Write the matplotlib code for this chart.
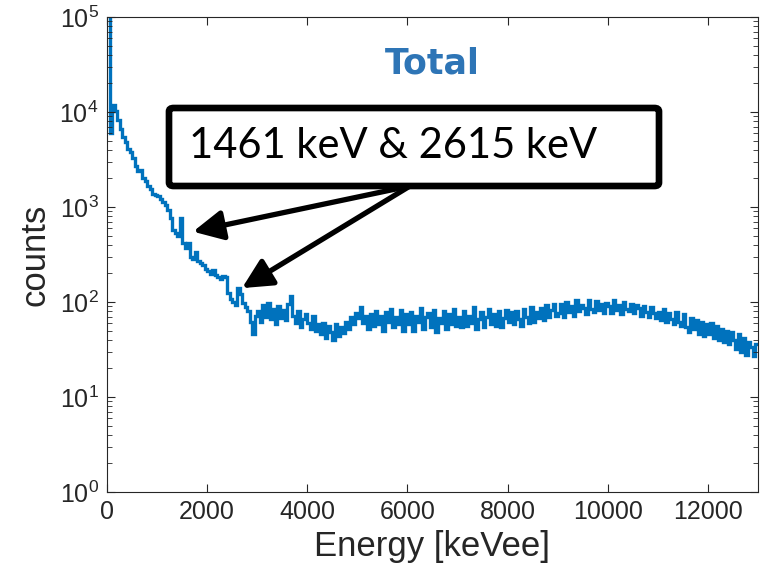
import numpy as np
import matplotlib
matplotlib.use("Agg")
import matplotlib.pyplot as plt
from matplotlib.patches import FancyBboxPatch
from matplotlib.ticker import LogLocator, NullFormatter

# spectrum, 50 keV bins from 0 to 13000 keV (counts)
bin_width = 50
counts = [
    150000, 6000, 11800, 10300, 8200, 6600, 5400, 4800, 4100, 3800,
    3300, 2700, 2400, 2450, 2000, 1900, 1650, 1550, 1380, 1330,
    1290, 1210, 1140, 1060, 930, 760, 570, 530, 500, 770,
    420, 370, 420, 300, 285, 335, 270, 255, 245, 220,
    210, 198, 215, 192, 185, 175, 190, 182, 125, 108,
    100, 92, 140, 122, 98, 88, 80, 62, 46, 72,
    80, 62, 92, 70, 98, 66, 84, 58, 90, 68,
    82, 64, 95, 117, 72, 60, 80, 55, 66, 74,
    60, 52, 72, 50, 58, 46, 60, 42, 56, 48,
    40, 58, 44, 55, 47, 62, 52, 70, 58, 76,
    68, 88, 60, 72, 52, 75, 56, 80, 58, 72,
    50, 78, 62, 84, 54, 70, 58, 82, 50, 74,
    58, 78, 50, 72, 62, 86, 52, 70, 76, 55,
    82, 48, 68, 60, 80, 52, 74, 58, 84, 56,
    70, 54, 80, 56, 72, 60, 88, 52, 66, 78,
    54, 70, 84, 58, 74, 56, 80, 54, 68, 82,
    62, 78, 58, 80, 66, 56, 84, 70, 60, 88,
    62, 78, 68, 86, 64, 92, 70, 82, 96, 72,
    76, 96, 70, 100, 78, 90, 72, 104, 80, 94,
    86, 74, 106, 84, 78, 102, 82, 96, 76, 98,
    90, 76, 104, 82, 94, 74, 100, 84, 80, 96,
    76, 92, 86, 72, 90, 78, 70, 88, 76, 68,
    78, 64, 84, 62, 76, 66, 58, 78, 62, 56,
    74, 54, 48, 68, 52, 64, 46, 62, 44, 58,
    46, 60, 42, 56, 40, 52, 38, 50, 36, 48,
    40, 32, 46, 30, 42, 28, 38, 34, 27, 36,
]
x_ticks = [0, 2000, 4000, 6000, 8000, 10000, 12000]

# annotated lines: (energy, counts) where the arrow tips sit
arrow_tips = [(1717, 550), (2696, 140)]
box_label = "1461 keV & 2615 keV"

plt.rcParams["font.family"] = ["Liberation Sans", "DejaVu Sans"]
W, H = 765, 578
fig = plt.figure(figsize=(W / 100, H / 100), dpi=100)
ax = fig.add_axes([107 / W, 1 - 492 / H, 651 / W, 475 / H])

edges = np.arange(len(counts) + 1) * bin_width
ax.stairs(counts, edges, color="#0072BD", linewidth=2.4, baseline=None)

ax.set_yscale("log")
ax.set_xlim(0, 13000)
ax.set_ylim(1, 1e5)
ax.set_xticks(x_ticks)
ax.yaxis.set_major_locator(LogLocator(base=10, numticks=10))
ax.yaxis.set_minor_locator(LogLocator(base=10, subs=np.arange(2, 10), numticks=20))
ax.yaxis.set_minor_formatter(NullFormatter())

axcol = "#262626"
for s in ax.spines.values():
    s.set_color(axcol)
    s.set_linewidth(0.8)
ax.tick_params(which="both", direction="in", top=True, right=True,
               colors=axcol, labelsize=18)
ax.tick_params(which="major", length=6)
ax.tick_params(which="minor", length=3.5)
ax.tick_params(axis="x", pad=6)
ax.tick_params(axis="y", pad=6)

ax.set_xlabel("Energy [keVee]", fontsize=25, color=axcol, labelpad=4)
ax.set_ylabel("counts", fontsize=25, color=axcol, labelpad=6)

# title
fig.text(432 / W, 1 - 74 / H, "Total", fontsize=25, fontweight="bold",
         color="#2E75B6", ha="center", va="baseline", family="DejaVu Sans")

# callout box
box = FancyBboxPatch((169 / W, 1 - 186 / H), 490 / W, 78 / H,
                     boxstyle="round,pad=0,rounding_size=0.006",
                     transform=fig.transFigure, facecolor="white",
                     edgecolor="black", linewidth=4.8, zorder=5)
fig.patches.append(box)
fig.text(393 / W, 1 - 146 / H, box_label, fontsize=30, family="Lato",
         ha="center", va="center", color="black", zorder=6)

for tip in arrow_tips:
    ax.annotate("", xy=tip, xycoords="data",
                xytext=(410, H - 186), textcoords="figure pixels",
                arrowprops=dict(arrowstyle="-|>,head_length=1.0,head_width=0.5",
                                mutation_scale=18, lw=3.8, color="black",
                                shrinkA=0, shrinkB=0),
                annotation_clip=False)

fig.savefig("out.png", dpi=100)
